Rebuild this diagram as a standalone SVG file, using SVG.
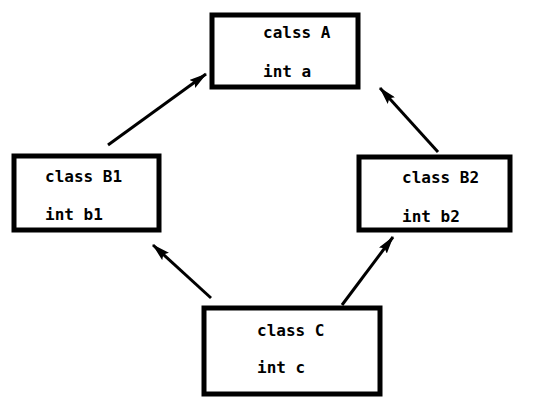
<svg xmlns="http://www.w3.org/2000/svg" width="560" height="420" viewBox="0 0 560 420">
<style>
.box{fill:#fff;stroke:#000;stroke-width:5}
.t{font-family:"DejaVu Sans Mono","Liberation Mono",monospace;font-size:16px;font-weight:bold;fill:#000}
.c{stroke:#000;stroke-width:3;fill:none}
</style>
<defs>
<marker id="ah" viewBox="0 0 18 10" refX="17" refY="5" markerWidth="18" markerHeight="10" markerUnits="userSpaceOnUse" orient="auto">
<path d="M0,0 L18,5 L0,10 L3,5 Z" fill="#000"/>
</marker>
</defs>
<rect width="560" height="420" fill="#fff"/>
<g id="connectors">
<line class="c" x1="108" y1="145" x2="206" y2="74" marker-end="url(#ah)"/>
<line class="c" x1="438" y1="152" x2="380" y2="88" marker-end="url(#ah)"/>
<line class="c" x1="211" y1="298" x2="153" y2="245" marker-end="url(#ah)"/>
<line class="c" x1="342" y1="305" x2="393" y2="237" marker-end="url(#ah)"/>
</g>
<g id="A">
<rect class="box" x="212" y="15" width="146" height="72"/>
<text class="t" x="263" y="38">calss A</text>
<text class="t" x="263" y="77">int a</text>
</g>
<g id="B1">
<rect class="box" x="14" y="156" width="145" height="74"/>
<text class="t" x="45" y="182">class B1</text>
<text class="t" x="45" y="220">int b1</text>
</g>
<g id="B2">
<rect class="box" x="359" y="157" width="151" height="73"/>
<text class="t" x="402" y="183">class B2</text>
<text class="t" x="402" y="222">int b2</text>
</g>
<g id="C">
<rect class="box" x="204" y="308" width="176" height="86"/>
<text class="t" x="257" y="336">class C</text>
<text class="t" x="257" y="373">int c</text>
</g>
</svg>
